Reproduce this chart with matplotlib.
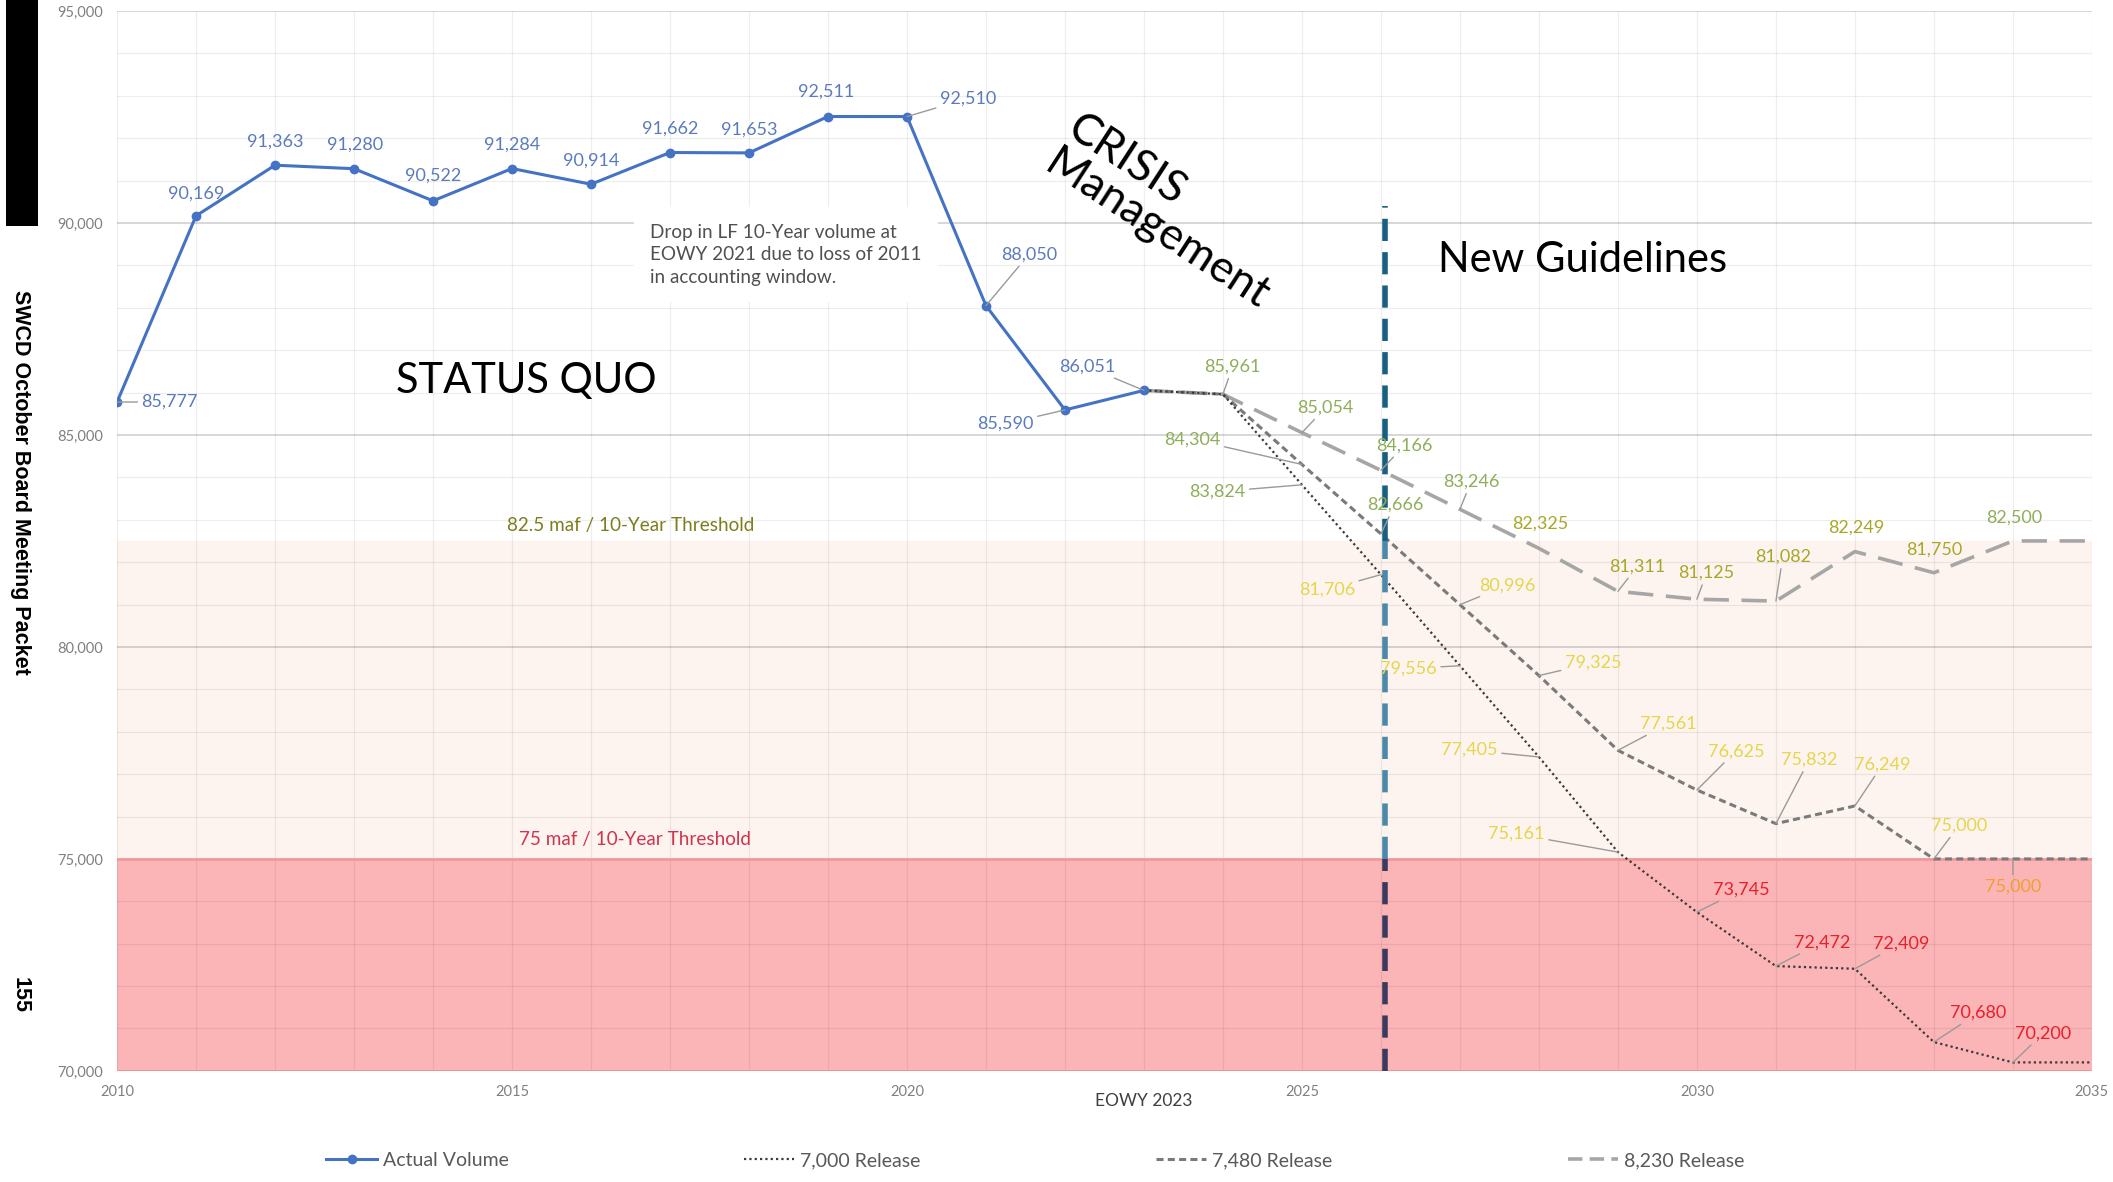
import matplotlib.pyplot as plt
from matplotlib.lines import Line2D
from matplotlib.patches import Rectangle
from matplotlib.ticker import MultipleLocator, FuncFormatter

plt.rcParams['font.family'] = ['Lato', 'DejaVu Sans']

# ---- data (kaf, 10-year Lee Ferry volume)
actual_years = list(range(2010, 2024))
actual_volume = [85777, 90169, 91363, 91280, 90522, 91284, 90914,
                 91662, 91653, 92511, 92510, 88050, 85590, 86051]

proj_years = list(range(2023, 2036))
release_8230 = [86051, 85961, 85054, 84166, 83246, 82325, 81311,
                81125, 81082, 82249, 81750, 82500, 82500]
release_7480 = [86051, 85961, 84304, 82666, 80996, 79325, 77561,
                76625, 75832, 76249, 75000, 75000, 75000]
release_7000 = [86051, 85961, 83824, 81706, 79556, 77405, 75161,
                73745, 72472, 72409, 70680, 70200, 70200]

threshold_high = 82500
threshold_low = 75000
guideline_year = 2026.05
guideline_top = 90400

# ---- label layout (offsets in points) and colours
actual_offsets = [(38, 0), (0, 16), (0, 17), (1, 17), (0, 18), (0, 17), (0, 17),
                  (0, 17), (0, 17), (-1, 18), (44, 13), (31, 37), (-43, -10), (-41, 17)]
off_8230 = [(7, 20), (17, 18), (17, 18), (8, 20), (1, 18), (14, 18), (7, 19),
            (5, 32), (1, 17), (0, 17), (1, 17)]
off_7480 = [(-79, 18), (10, 21), (34, 14), (39, 9), (36, 19), (28, 28), (24, 46),
            (20, 30), (18, 24), (0, -20)]
off_7000 = [(-61, -5), (-39, -11), (-37, -2), (-50, 5), (-73, 13), (32, 16), (33, 17),
            (33, 18), (32, 21), (22, 21)]

GREEN = '#8eae5a'
OLIVE = '#a9a72a'
YELLOW = '#e4d64c'
ORANGE = '#f0a030'
RED = '#e8202c'
col_8230 = [GREEN, GREEN, GREEN, GREEN, OLIVE, OLIVE, OLIVE, OLIVE, OLIVE, OLIVE, GREEN]
col_7480 = [GREEN, GREEN, YELLOW, YELLOW, YELLOW, YELLOW, YELLOW, YELLOW, YELLOW, ORANGE]
col_7000 = [GREEN, YELLOW, YELLOW, YELLOW, YELLOW, RED, RED, RED, RED, RED]

fig = plt.figure(figsize=(21.13, 11.82), dpi=100)
ax = fig.add_axes([0.0554, 0.094, 0.9346, 0.8967])

# bands
ax.axhspan(threshold_low, threshold_high, color='#fdf4ef', zorder=0.1)
ax.axhspan(70000, threshold_low, facecolor='#fbb5b7', edgecolor='none', zorder=0.2)
ax.axhline(threshold_low, color='#f29596', lw=1.8, zorder=0.6)
ax.axhline(70000, color='#f29596', lw=1.8, zorder=0.6)

# lines
ax.plot(proj_years, release_8230, color='#a6a6a6', lw=2.6, dashes=(7, 3.5), zorder=3)
ax.plot(proj_years, release_7480, color='#7a7a7a', lw=2.2, dashes=(2.3, 1.4), zorder=3)
ax.plot(proj_years, release_7000, color='#3a3a3a', lw=1.6, dashes=(1, 1.4), zorder=3)
ax.plot(actual_years, actual_volume, color='#4472c4', lw=2.2, marker='o', ms=6, zorder=4)

# guideline divider
ax.vlines(guideline_year, threshold_high, guideline_top, color='#17607f', lw=4, linestyles=(0, (4, 2)), zorder=5)
ax.vlines(guideline_year, threshold_low, threshold_high, color='#4a89a7', lw=4, linestyles=(0, (4, 2)), zorder=5)
ax.vlines(guideline_year, 70000, threshold_low, color='#3b3a5e', lw=4, linestyles=(0, (4, 2)), zorder=5)


def put_label(x, y, off, color):
    lead = (off[0] ** 2 + off[1] ** 2) ** 0.5 > 19
    ax.annotate(f'{y:,}', (x, y), xytext=off, textcoords='offset points',
                ha='center', va='center', fontsize=13, color=color, zorder=6,
                arrowprops=dict(arrowstyle='-', color='#9a9a9a', lw=1, shrinkA=1, shrinkB=0) if lead else None)


for x, y, off in zip(actual_years, actual_volume, actual_offsets):
    put_label(x, y, off, '#5b7bbd')
for x, y, off, c in zip(proj_years[1:12], release_8230[1:12], off_8230, col_8230):
    put_label(x, y, off, c)
for x, y, off, c in zip(proj_years[2:12], release_7480[2:12], off_7480, col_7480):
    put_label(x, y, off, c)
for x, y, off, c in zip(proj_years[2:12], release_7000[2:12], off_7000, col_7000):
    put_label(x, y, off, c)

# text annotations
ax.text(2016.5, 82870, '82.5 maf / 10-Year Threshold', ha='center', va='center', fontsize=13.6, color='#7d7d1e')
ax.text(2016.55, 75460, '75 maf / 10-Year Threshold', ha='center', va='center', fontsize=13.6, color='#d2334d')
ax.text(2015.18, 86264, 'STATUS QUO', ha='center', va='center', fontsize=30, color='black')
ax.text(2028.55, 89123, 'New Guidelines', ha='center', va='center', fontsize=30, color='black')
ax.text(2023.31, 90248, 'CRISIS\nManagement', ha='center', va='center', fontsize=32, color='black',
        rotation=-33, rotation_mode='anchor', multialignment='left', linespacing=1.05)
ax.text(2016.75, 89250, 'Drop in LF 10-Year volume at\nEOWY 2021 due to loss of 2011\nin accounting window.',
        ha='left', va='center', fontsize=13.6, color='#505050', linespacing=1.4, zorder=2,
        bbox=dict(facecolor='white', edgecolor='none', pad=12))
ax.text(2023, 69300, 'EOWY 2023', ha='center', va='center', fontsize=12.5, color='#404040')

# axes
ax.set_xlim(2010, 2035)
ax.set_ylim(70000, 95000)
ax.xaxis.set_major_locator(MultipleLocator(5))
ax.xaxis.set_minor_locator(MultipleLocator(1))
ax.yaxis.set_major_locator(MultipleLocator(5000))
ax.yaxis.set_minor_locator(MultipleLocator(1000))
ax.yaxis.set_major_formatter(FuncFormatter(lambda v, p: f'{int(v):,}'))
ax.tick_params(which='both', length=0, labelsize=10.5, labelcolor='#808080')
ax.tick_params(axis='y', pad=10)
ax.tick_params(axis='x', pad=10)
ax.grid(which='minor', color='black', alpha=0.065, lw=0.9)
ax.grid(axis='x', which='major', color='black', alpha=0.065, lw=0.9)
ax.grid(axis='y', which='major', color='black', alpha=0.17, lw=1.3)
ax.set_axisbelow(True)
for s in ax.spines.values():
    s.set_visible(False)

# legend
handles = [
    Line2D([], [], color='#4472c4', lw=2.2, marker='o', ms=6),
    Line2D([], [], color='#3a3a3a', lw=1.6, dashes=(1, 1.4)),
    Line2D([], [], color='#7a7a7a', lw=2.2, dashes=(2.3, 1.4)),
    Line2D([], [], color='#a6a6a6', lw=2.6, dashes=(4, 2)),
]
fig.legend(handles, ['Actual Volume', '7,000 Release', '7,480 Release', '8,230 Release'],
           loc='center', bbox_to_anchor=(0.49, 0.018), ncol=4, frameon=False,
           fontsize=14, labelcolor='#595959', handlelength=2.6, handletextpad=0.3,
           columnspacing=12.1)

# page decorations
fig.patches.append(Rectangle((0.0028, 0.809), 0.0152, 0.191, transform=fig.transFigure,
                             facecolor='black', edgecolor='none'))
fig.text(0.0095, 0.592, 'SWCD October Board Meeting Packet', rotation=270, ha='center', va='center',
         fontsize=15.5, fontweight='bold', family='Liberation Sans')
fig.text(0.0095, 0.158, '155', rotation=270, ha='center', va='center',
         fontsize=15.5, fontweight='bold', family='Liberation Sans')

fig.savefig('out.png', dpi=100, facecolor='white')
